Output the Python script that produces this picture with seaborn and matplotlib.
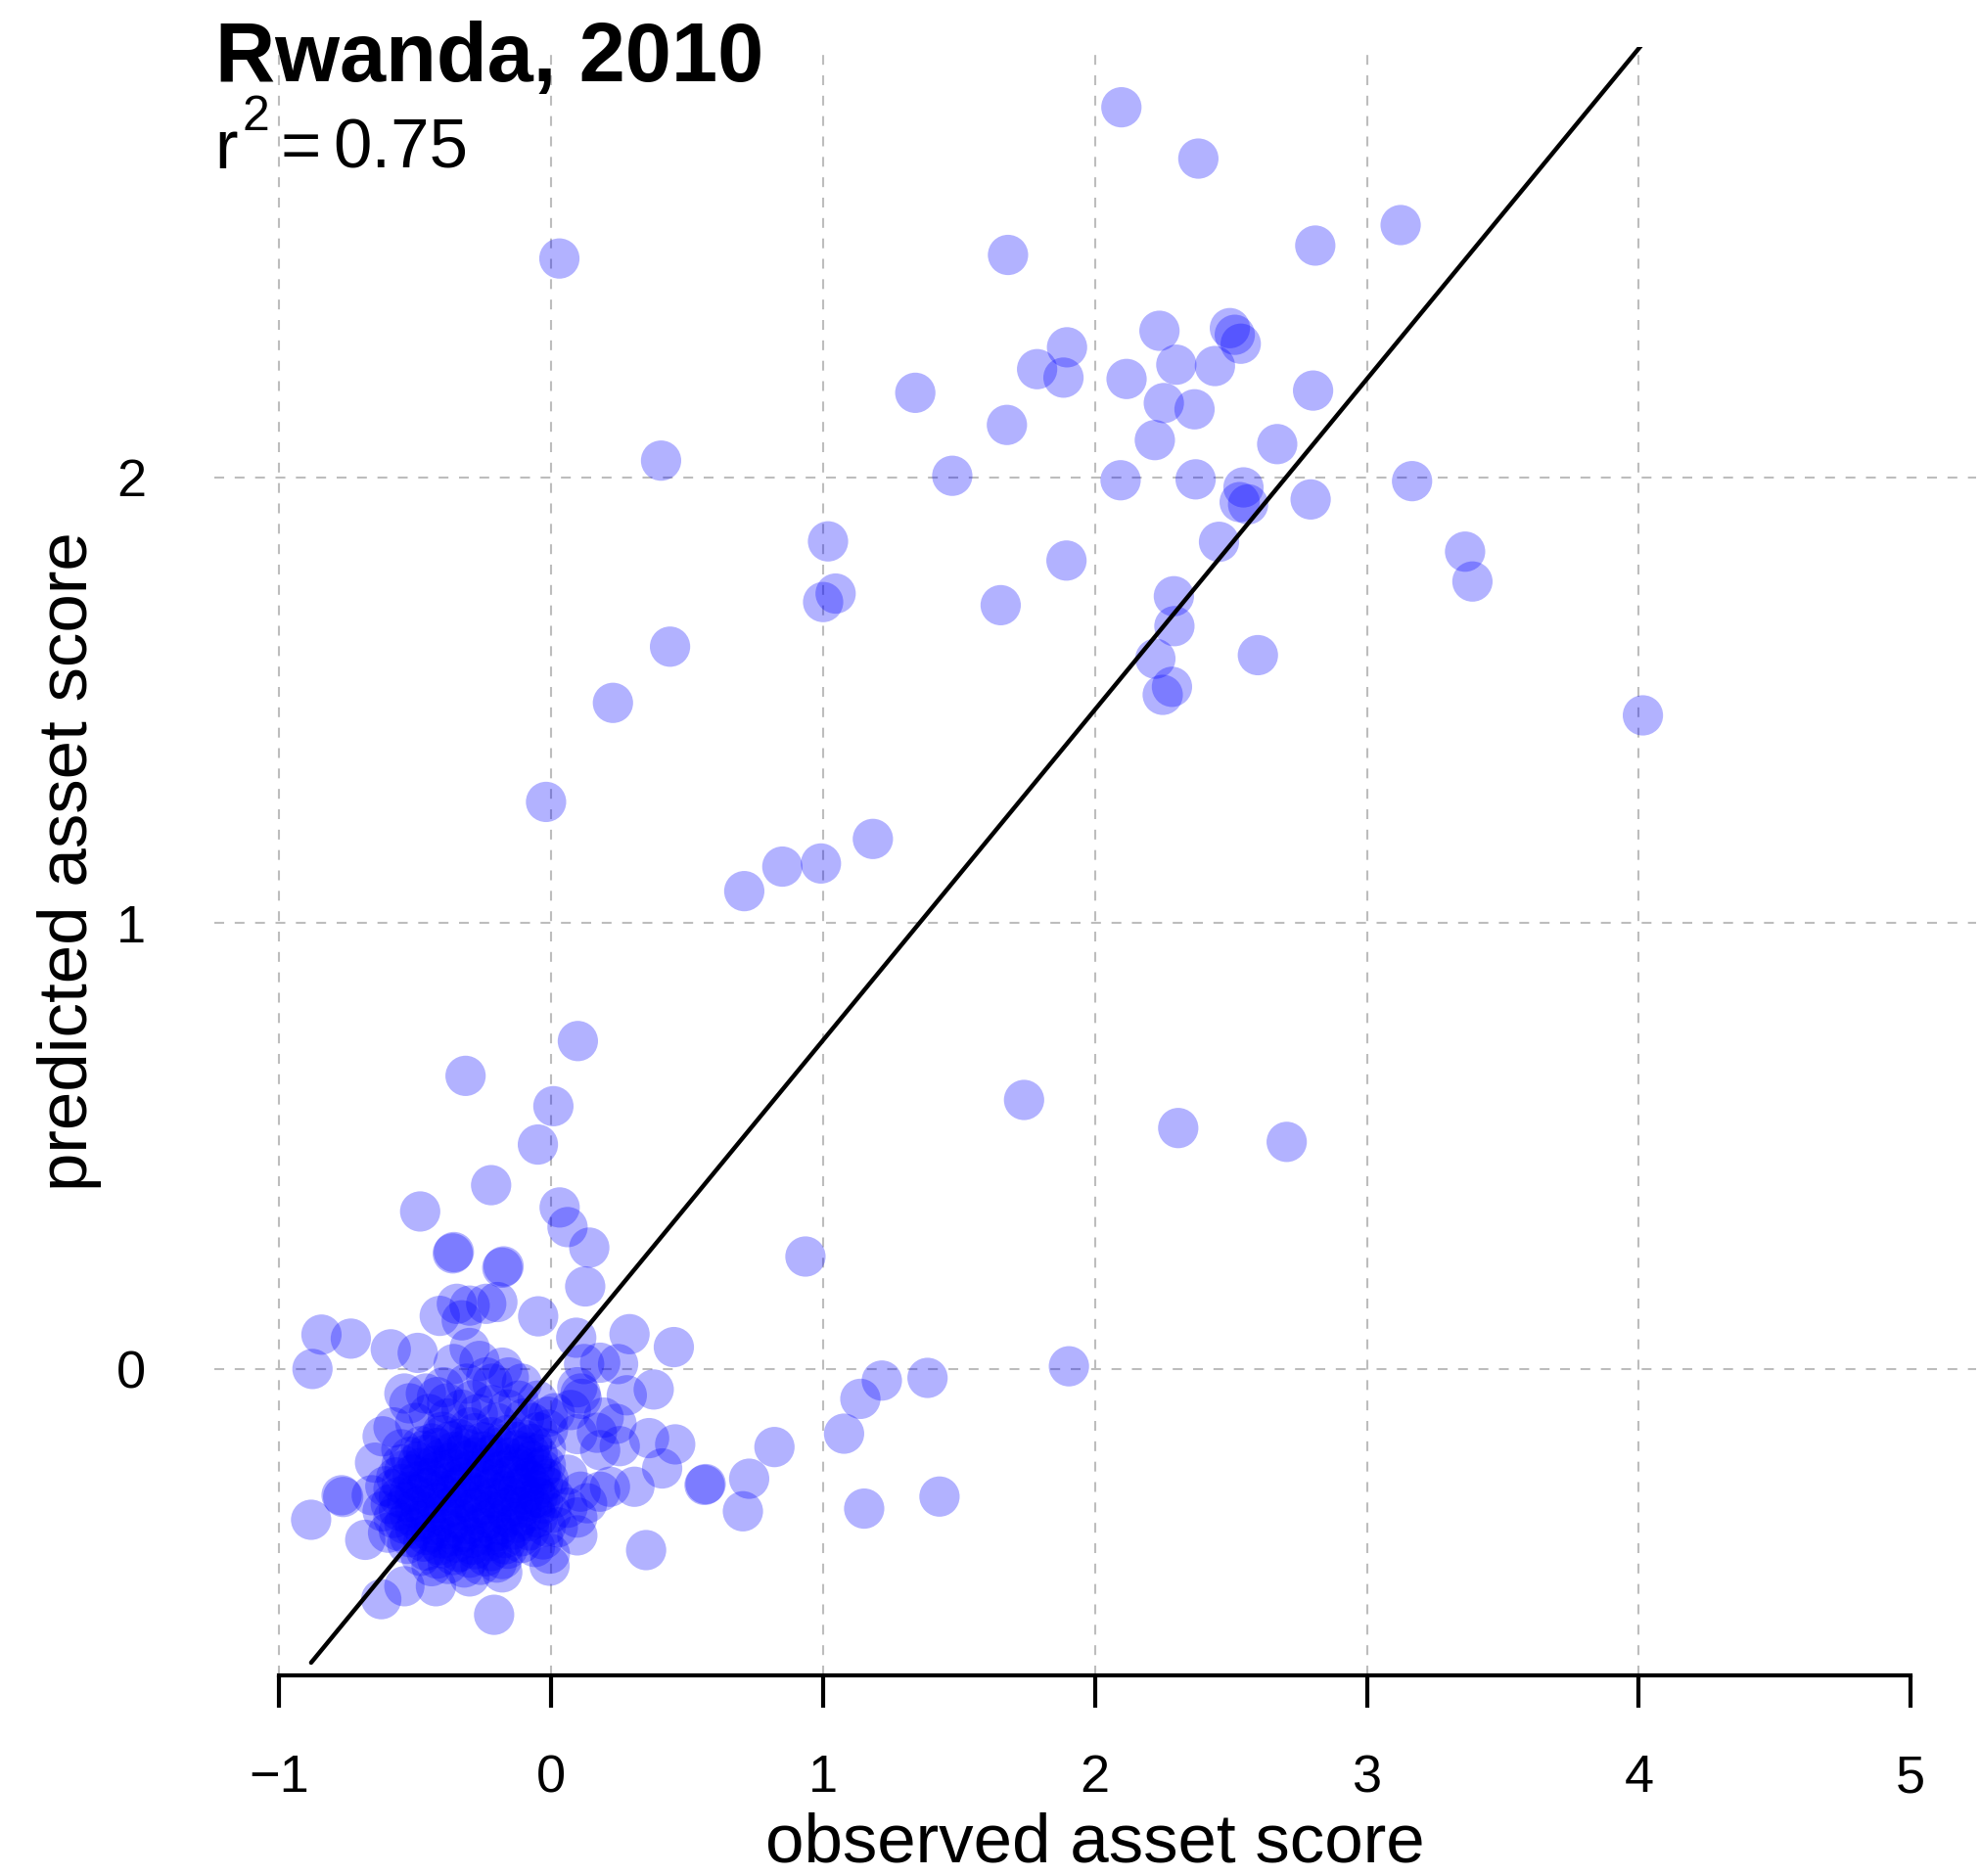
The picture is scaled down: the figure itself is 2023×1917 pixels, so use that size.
import matplotlib
matplotlib.use("Agg")
import matplotlib.pyplot as plt
import seaborn as sns
import pandas as pd

# ---- data: observed vs predicted asset score per survey cluster ----

# wealthier clusters spread over the upper part of the plot
upper_obs = [2.097, 2.380, 3.124, 2.810, 1.680, 0.030, 2.237, 2.496, 2.514, 2.536,
             1.897, 1.787, 1.884, 1.339, 2.116, 2.299, 2.441, 2.802, 2.253, 2.366,
             1.676, 2.220, 2.670, 0.404, 1.475, 2.094, 2.370, 3.166, 2.546, 2.532,
             2.563, 2.793, 2.456, 1.018, 3.361, 1.895, 3.388, 1.046, 1.000, 1.653,
             2.290, 2.292, 0.437, 2.599, 2.222, 2.283, 2.249, 0.227, 4.015, -0.019,
             1.183, 0.850, 0.992, 0.710, 0.098, -0.315, 1.739, 0.008, 2.306, 2.705,
             -0.049]
upper_pred = [2.829, 2.714, 2.565, 2.519, 2.498, 2.490, 2.328, 2.334, 2.319, 2.299,
              2.291, 2.242, 2.223, 2.189, 2.220, 2.252, 2.249, 2.194, 2.166, 2.152,
              2.117, 2.083, 2.074, 2.037, 2.003, 1.993, 1.995, 1.991, 1.977, 1.944,
              1.939, 1.950, 1.855, 1.856, 1.833, 1.813, 1.766, 1.739, 1.720, 1.713,
              1.733, 1.666, 1.620, 1.601, 1.593, 1.530, 1.512, 1.494, 1.466, 1.272,
              1.189, 1.127, 1.134, 1.072, 0.736, 0.658, 0.604, 0.590, 0.541, 0.510,
              0.504]

# under-predicted clusters to the lower right
lowright_obs = [1.216, 1.384, 1.904, 1.137, 1.077, 0.821, 0.568, 0.728, 0.705, 1.151,
                1.428, 0.935]
lowright_pred = [-0.025, -0.019, 0.007, -0.066, -0.144, -0.174, -0.257, -0.245, -0.318, -0.312,
                 -0.285, 0.253]

# scattered clusters around zero
mid_obs = [-0.221, -0.482, 0.031, 0.060, 0.140, -0.362, -0.358, -0.180, -0.175, 0.125,
           -0.410, -0.347, -0.300, -0.239, -0.198, -0.329, -0.048, -0.845, -0.737, -0.878,
           -0.590, -0.491, -0.300, 0.092, 0.121, -0.359, -0.264, -0.180, -0.156, -0.239,
           -0.311, -0.396, -0.461, -0.522, -0.383, -0.288, -0.216, -0.108, 0.072, 0.096,
           -0.012, -0.072, 0.288, 0.451, 0.180, 0.246, 0.278, 0.377, -0.540, -0.420]
mid_pred = [0.413, 0.354, 0.363, 0.319, 0.273, 0.260, 0.263, 0.228, 0.231, 0.186,
            0.120, 0.147, 0.143, 0.147, 0.151, 0.110, 0.119, 0.078, 0.069, 0.001,
            0.045, 0.037, 0.048, 0.071, 0.012, 0.012, 0.019, 0.004, -0.018, -0.018,
            -0.032, -0.040, -0.054, -0.076, -0.076, -0.069, -0.032, -0.032, -0.091, -0.040,
            -0.106, -0.120, 0.079, 0.050, 0.015, 0.012, -0.058, -0.045, -0.054, -0.062]

# clusters on the right edge of the main cloud
edge_obs = [0.108, 0.112, 0.168, 0.252, 0.360, 0.456, 0.193, 0.240, 0.096, 0.180,
            0.060, 0.108, 0.180, 0.306, 0.408, 0.060, 0.096, 0.132, 0.216, 0.024,
            0.096, -0.005, 0.349, 0.013, -0.036, -0.012, 0.013, 0.564]
edge_pred = [-0.054, -0.066, -0.142, -0.172, -0.154, -0.168, -0.108, -0.122, -0.145, -0.181,
             -0.236, -0.274, -0.274, -0.263, -0.222, -0.310, -0.332, -0.300, -0.263, -0.354,
             -0.372, -0.413, -0.405, -0.288, -0.223, -0.135, -0.098, -0.259]

# clusters on the left, bottom and top rim of the main cloud
rim_obs = [-0.883, -0.771, -0.765, -0.625, -0.540, -0.210, -0.006, -0.424, -0.300, -0.180,
           -0.684, -0.660, -0.648, -0.551, -0.479, -0.620, -0.580, -0.450, -0.380, -0.330,
           -0.270, -0.220, -0.160, -0.120, -0.050, -0.300, -0.200, -0.100, -0.400, -0.500]
rim_pred = [-0.337, -0.282, -0.286, -0.515, -0.486, -0.550, -0.440, -0.486, -0.464, -0.455,
            -0.382, -0.282, -0.209, -0.179, -0.172, -0.150, -0.130, -0.100, -0.110, -0.090,
            -0.100, -0.080, -0.090, -0.070, -0.070, -0.130, -0.120, -0.110, -0.140, -0.120]

# the dense cloud of poorer rural clusters
core_obs = [
    -0.40, -0.34, -0.28, -0.22, -0.16, -0.10, -0.05,
    -0.47, -0.42, -0.36, -0.31, -0.25, -0.19, -0.13, -0.08, -0.02,
    -0.55, -0.49, -0.43, -0.37, -0.31, -0.25, -0.19, -0.13, -0.07, -0.02,
    -0.57, -0.51, -0.45, -0.39, -0.33, -0.27, -0.21, -0.15, -0.09, -0.04,
    -0.58, -0.52, -0.46, -0.41, -0.35, -0.29, -0.23, -0.17, -0.12, -0.06, -0.01,
    -0.59, -0.53, -0.48, -0.42, -0.36, -0.31, -0.25, -0.19, -0.14, -0.08, -0.03,
    -0.58, -0.52, -0.46, -0.40, -0.34, -0.28, -0.22, -0.16, -0.11, -0.05,
    -0.56, -0.50, -0.44, -0.38, -0.32, -0.26, -0.20, -0.14, -0.08,
    -0.53, -0.47, -0.41, -0.35, -0.29, -0.23, -0.17, -0.11,
    -0.48, -0.42, -0.36, -0.30, -0.24, -0.18,
    -0.44, -0.37, -0.31, -0.25, -0.19, -0.13, -0.07,
    -0.52, -0.46, -0.40, -0.34, -0.28, -0.22, -0.16, -0.10, -0.05,
    -0.54, -0.48, -0.42, -0.36, -0.30, -0.24, -0.18, -0.12, -0.06,
    -0.55, -0.49, -0.43, -0.37, -0.32, -0.26, -0.20, -0.14, -0.08, -0.03,
    -0.56, -0.50, -0.44, -0.38, -0.33, -0.27, -0.21, -0.16, -0.10, -0.05,
    -0.56, -0.50, -0.45, -0.39, -0.33, -0.28, -0.22, -0.17, -0.11, -0.06,
    -0.54, -0.49, -0.43, -0.37, -0.31, -0.25, -0.19, -0.13, -0.08,
    -0.52, -0.46, -0.40, -0.35, -0.29, -0.23, -0.17, -0.11,
    -0.46, -0.40, -0.34, -0.28, -0.22, -0.16,
    -0.44, -0.38, -0.32, -0.26, -0.20,
    -0.02, -0.03, -0.06, 0.00, -0.04, -0.01,
    -0.61, -0.62, -0.60,
]
core_pred = [
    -0.148, -0.156, -0.143, -0.152, -0.147, -0.158, -0.141,
    -0.182, -0.176, -0.185, -0.178, -0.184, -0.175, -0.181, -0.186, -0.177,
    -0.213, -0.207, -0.216, -0.209, -0.204, -0.214, -0.208, -0.212, -0.205, -0.215,
    -0.242, -0.236, -0.245, -0.238, -0.243, -0.235, -0.246, -0.239, -0.244, -0.237,
    -0.268, -0.274, -0.266, -0.272, -0.265, -0.276, -0.269, -0.273, -0.267, -0.271, -0.264,
    -0.302, -0.297, -0.305, -0.299, -0.306, -0.296, -0.303, -0.298, -0.304, -0.295, -0.301,
    -0.333, -0.327, -0.336, -0.329, -0.335, -0.326, -0.334, -0.331, -0.328, -0.332,
    -0.362, -0.357, -0.365, -0.358, -0.364, -0.356, -0.363, -0.359, -0.361,
    -0.391, -0.386, -0.394, -0.388, -0.393, -0.385, -0.392, -0.389,
    -0.418, -0.424, -0.416, -0.422, -0.419, -0.425,
    -0.166, -0.161, -0.169, -0.163, -0.168, -0.162, -0.167,
    -0.196, -0.191, -0.199, -0.193, -0.197, -0.192, -0.198, -0.194, -0.190,
    -0.226, -0.221, -0.229, -0.223, -0.228, -0.222, -0.227, -0.224, -0.220,
    -0.257, -0.252, -0.259, -0.253, -0.256, -0.251, -0.258, -0.254, -0.250, -0.256,
    -0.286, -0.281, -0.289, -0.283, -0.287, -0.282, -0.288, -0.284, -0.280, -0.286,
    -0.316, -0.311, -0.319, -0.313, -0.317, -0.312, -0.318, -0.314, -0.310, -0.316,
    -0.346, -0.341, -0.349, -0.343, -0.347, -0.342, -0.348, -0.344, -0.340,
    -0.376, -0.371, -0.379, -0.373, -0.377, -0.372, -0.378, -0.374,
    -0.406, -0.401, -0.409, -0.403, -0.407, -0.402,
    -0.441, -0.436, -0.444, -0.438, -0.433,
    -0.352, -0.381, -0.398, -0.322, -0.289, -0.246,
    -0.262, -0.318, -0.366,
]

# fitted line and fit quality
fit_intercept = -0.003
fit_slope = 0.741
r_squared = 0.75

title_text = "Rwanda, 2010"
x_label = "observed asset score"
y_label = "predicted asset score"
x_ticks = [-1, 0, 1, 2, 3, 4, 5]
y_ticks = [0, 1, 2]
x_grid = [-1, 0, 1, 2, 3, 4]

# ---- assemble ----
obs = upper_obs + lowright_obs + mid_obs + edge_obs + rim_obs + core_obs
pred = upper_pred + lowright_pred + mid_pred + edge_pred + rim_pred + core_pred
df = pd.DataFrame({"observed": obs, "predicted": pred})

x_lo, x_hi = min(obs), max(obs)
fit_df = pd.DataFrame({"observed": [x_lo, x_hi],
                       "predicted": [fit_intercept + fit_slope * x_lo,
                                     fit_intercept + fit_slope * x_hi]})

sns.set_theme(style="white")
plt.rcParams["font.family"] = ["Liberation Sans", "DejaVu Sans"]
plt.rcParams["axes.unicode_minus"] = True
for key in ["text.color", "axes.labelcolor", "xtick.color", "ytick.color"]:
    plt.rcParams[key] = "black"

W, H = 2023, 1917
fig = plt.figure(figsize=(W / 100, H / 100), dpi=100)
left_px, right_px, top_px, bottom_px = 218.7, 2018.9, 48.0, 1711.7
ax = fig.add_axes([left_px / W, 1 - bottom_px / H,
                   (right_px - left_px) / W, (bottom_px - top_px) / H])

ax.set_xlim(-1.24, 5.24)
pr = max(pred) - min(pred)
ax.set_ylim(min(pred) - 0.04 * pr, max(pred) + 0.04 * pr)

# dashed reference grid
grid_kw = dict(color="#bdbdbd", lw=1.5, linestyle=(0, (4.8, 5.2)), zorder=0)
for gx in x_grid:
    ax.axvline(gx, **grid_kw)
for gy in y_ticks:
    ax.axhline(gy, **grid_kw)

sns.scatterplot(data=df, x="observed", y="predicted", ax=ax, color="blue",
                alpha=0.3, s=880, linewidth=0, edgecolor="none", zorder=2,
                legend=False)
sns.lineplot(data=fit_df, x="observed", y="predicted", ax=ax, color="black",
             linewidth=3.2, zorder=3, legend=False)

# R-style axes: bottom axis line from -1 to 5 only, no left axis line
for side in ["top", "right", "left"]:
    ax.spines[side].set_visible(False)
ax.spines["bottom"].set_bounds(-1, 5)
ax.spines["bottom"].set_linewidth(3.0)
ax.spines["bottom"].set_color("black")
ax.spines["bottom"].set_capstyle("projecting")

ax.set_xticks(x_ticks)
ax.set_yticks(y_ticks)
ax.set_xticklabels([f"{t}".replace("-", "\u2212") for t in x_ticks])
ax.set_yticklabels([str(t) for t in y_ticks])
ax.tick_params(axis="x", direction="out", length=24, width=3.0, color="black",
               labelsize=39, pad=34, bottom=True)
ax.tick_params(axis="y", length=0, labelsize=39, pad=50, left=False)

ax.set_xlabel(x_label, fontsize=51, va="top")
ax.xaxis.set_label_coords(0.5, -0.0843)
ax.set_ylabel(y_label, fontsize=51, va="center")
ax.yaxis.set_label_coords(-0.0818, 0.5)

# title and r-squared annotation inside the top-left corner
fig.text(220 / W, 1 - 82.7 / H, title_text, fontsize=61, fontweight="bold",
         ha="left", va="baseline")
fig.text(219 / W, 1 - 171.7 / H, "r", fontsize=51, ha="left", va="baseline")
fig.text(248 / W, 1 - 133 / H, "2", fontsize=36, ha="left", va="baseline")
fig.text(287 / W, 1 - 171.7 / H, "=", fontsize=51, ha="left", va="baseline")
fig.text(340 / W, 1 - 171.7 / H, f"{r_squared:.2f}", fontsize=51, ha="left",
         va="baseline")

fig.savefig("out.png", dpi=100)
